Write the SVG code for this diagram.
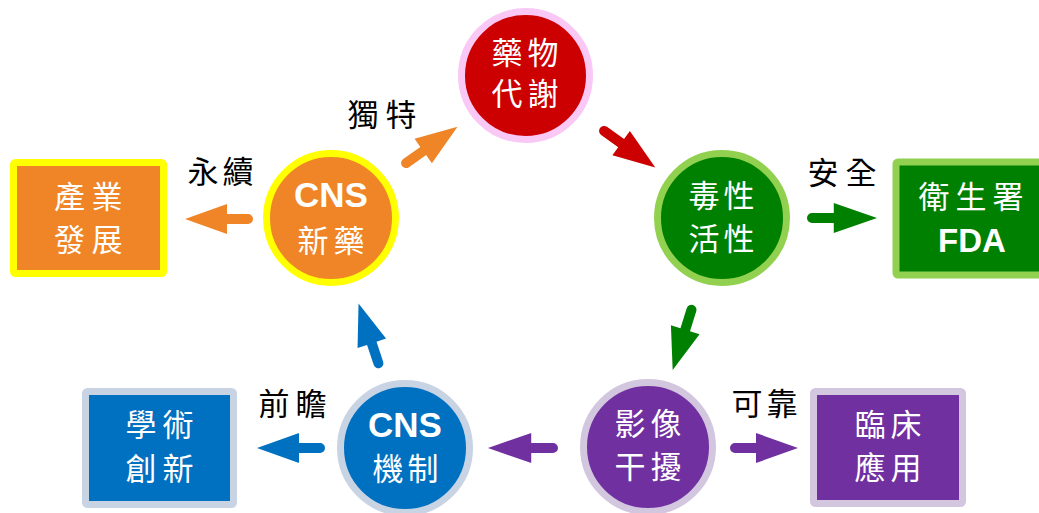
<svg xmlns="http://www.w3.org/2000/svg" xmlns:xlink="http://www.w3.org/1999/xlink" width="1039" height="513" viewBox="0 0 1039 513">
<style>
.cjk{font-family:"Noto Sans CJK TC","Noto Sans CJK SC",sans-serif;font-size:31px;text-anchor:middle}
.w{fill:#ffffff}
.b{fill:#000000}
.lat{font-family:"Liberation Sans",Arial,sans-serif;font-weight:bold;text-anchor:middle;fill:#ffffff}
.or{fill:#EF8526;stroke:#FFFF00;stroke-width:7}
.rd{fill:#CC0000;stroke:#F9C8F4;stroke-width:7}
.gr{fill:#008000;stroke:#92D050;stroke-width:7}
.bl{fill:#0070C0;stroke:#C8D4E4;stroke-width:7}
.pu{fill:#7030A0;stroke:#D3C7E0;stroke-width:7}
</style>
<defs>
<path id="arw" d="M5,-5 H26 V-15 L68,0 L26,15 V5 H5 A5,5 0 0 1 5,-5 Z"/>
</defs>
<rect width="1039" height="513" fill="#ffffff"/>
<g id="connectors">
<use xlink:href="#arw" fill="#EF8526" transform="translate(253,219) rotate(180)"/>
<use xlink:href="#arw" fill="#EF8526" transform="translate(402,166) rotate(-35.3)"/>
<use xlink:href="#arw" fill="#CC0000" transform="translate(600,128) rotate(35.6)"/>
<use xlink:href="#arw" fill="#008000" transform="translate(807,218) rotate(0) scale(1.03,1)"/>
<use xlink:href="#arw" fill="#008000" transform="translate(693,305) rotate(107.4)"/>
<use xlink:href="#arw" fill="#7030A0" transform="translate(558,448) rotate(180) scale(1.03,1)"/>
<use xlink:href="#arw" fill="#7030A0" transform="translate(730,448) rotate(0)"/>
<use xlink:href="#arw" fill="#0070C0" transform="translate(325,448) rotate(180)"/>
<use xlink:href="#arw" fill="#0070C0" transform="translate(380,368) rotate(-108.4)"/>
</g>
<g id="labels">
<text class="cjk b" x="363 401" y="126">獨特</text>
<text class="cjk b" x="203 238" y="183">永續</text>
<text class="cjk b" x="823 861" y="184">安全</text>
<text class="cjk b" x="274 311" y="415">前瞻</text>
<text class="cjk b" x="747 782" y="415">可靠</text>
</g>
<g id="node-industry">
<rect class="or" x="13.5" y="162.5" width="150" height="111" rx="2"/>
<text class="cjk w" x="69.5 107" y="208">產業</text>
<text class="cjk w" x="69.5 107" y="251">發展</text>
</g>
<g id="node-cns-drug">
<circle class="or" cx="331" cy="218" r="64.5"/>
<text class="lat" x="331" y="207" font-size="35">CNS</text>
<text class="cjk w" x="313 349" y="252">新藥</text>
</g>
<g id="node-metabolism">
<circle class="rd" cx="525.5" cy="75.5" r="64"/>
<text class="cjk w" x="507 543" y="64">藥物</text>
<text class="cjk w" x="507 543" y="105">代謝</text>
</g>
<g id="node-toxicity">
<circle class="gr" cx="722" cy="218" r="64.5"/>
<text class="cjk w" x="704 739" y="207">毒性</text>
<text class="cjk w" x="704 739" y="250">活性</text>
</g>
<g id="node-fda">
<rect class="gr" x="896" y="162" width="160" height="113" rx="2" stroke-width="6"/>
<text class="cjk w" x="934 971 1008" y="208">衛生署</text>
<text class="lat" x="972" y="252" font-size="33">FDA</text>
</g>
<g id="node-imaging">
<circle class="pu" cx="648" cy="447" r="64.5"/>
<text class="cjk w" x="630 666" y="435">影像</text>
<text class="cjk w" x="630 666" y="478">干擾</text>
</g>
<g id="node-clinical">
<rect class="pu" x="813.5" y="391.5" width="149" height="112" rx="2"/>
<text class="cjk w" x="870 906" y="436">臨床</text>
<text class="cjk w" x="870 906" y="479">應用</text>
</g>
<g id="node-cns-mech">
<circle class="bl" cx="405" cy="448" r="64.5"/>
<text class="lat" x="405" y="437" font-size="35">CNS</text>
<text class="cjk w" x="388 423" y="480">機制</text>
</g>
<g id="node-academic">
<rect class="bl" x="85.5" y="391.5" width="148" height="113" rx="2"/>
<text class="cjk w" x="141 178" y="436">學術</text>
<text class="cjk w" x="141 178" y="480">創新</text>
</g>
</svg>
